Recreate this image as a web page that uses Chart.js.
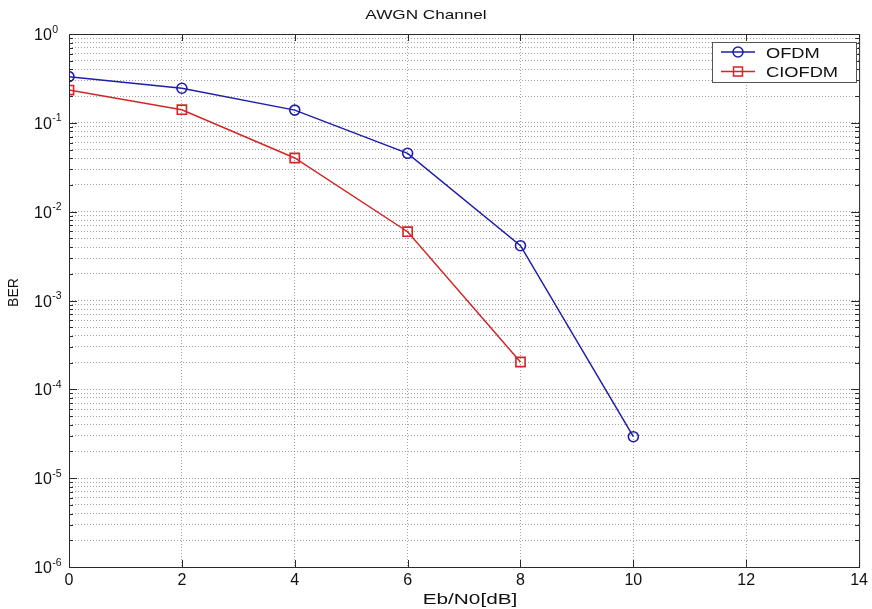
<!DOCTYPE html>
<html>
<head>
<meta charset="utf-8">
<script src="https://cdn.jsdelivr.net/npm/chart.js@4.4.0/dist/chart.umd.min.js"></script>
<style>
  html, body { margin: 0; padding: 0; background: #fff; }
  #wrap { width: 872px; height: 609px; }
</style>
</head>
<body>
<div id="wrap"><canvas id="berChart"></canvas></div>
<script>
// values
const ebN0Ofdm = [0, 2, 4, 6, 8, 10];
const berOfdm = [0.331, 0.245, 0.139, 0.0454, 0.00414, 2.93e-5];
const ebN0Ciofdm = [0, 2, 4, 6, 8];
const berCiofdm = [0.234, 0.1406, 0.0402, 0.00595, 2.03e-4];

const seriesNames = ['OFDM', 'CIOFDM'];
const seriesColors = ['#1e1eaa', '#d42626'];
const seriesMarkers = ['circle', 'rect'];

const xTicks = [0, 2, 4, 6, 8, 10, 12, 14];
const yDecades = [-6, -5, -4, -3, -2, -1, 0];
const yMinorSteps = [2, 3, 4, 5, 6, 7, 8, 9];

const titleText = 'AWGN Channel';
const xLabel = 'Eb/N0[dB]';
const yLabel = 'BER';

const FONT = '"Liberation Sans", Arial, sans-serif';
const gridColor = 'rgba(70,70,70,0.5)';

// every 1..9 x 10^n between the decades
const yTickValues = [];
yDecades.forEach(d => {
    yTickValues.push(Math.pow(10, d));
    if (d < 0) yMinorSteps.forEach(m => yTickValues.push(m * Math.pow(10, d)));
});

function isDecade(v) {
    const l = Math.log10(v);
    return Math.abs(l - Math.round(l)) < 1e-9;
}

// stretched text, the figure's labels look wider than normal
function wideText(ctx, txt, x, y, size, sx, align) {
    ctx.save();
    ctx.font = size + 'px ' + FONT;
    ctx.translate(x, y);
    ctx.scale(sx, 1);
    ctx.textAlign = align || 'center';
    ctx.textBaseline = 'alphabetic';
    ctx.fillText(txt, 0, 0);
    ctx.restore();
}

const framePlugin = {
    id: 'frame',
    afterDraw(chart) {
        const { ctx, chartArea: a, scales: { x, y } } = chart;
        ctx.save();

        // axes box + inward ticks
        ctx.strokeStyle = '#2a2a2a';
        ctx.lineWidth = 1;
        ctx.strokeRect(a.left + 0.5, a.top + 0.5, a.right - a.left, a.bottom - a.top);
        ctx.beginPath();
        yTickValues.forEach(v => {
            const py = Math.round(y.getPixelForValue(v)) + 0.5;
            const len = isDecade(v) ? 8 : 4;
            ctx.moveTo(a.left, py); ctx.lineTo(a.left + len, py);
            ctx.moveTo(a.right, py); ctx.lineTo(a.right - len, py);
        });
        xTicks.forEach(v => {
            const px = Math.round(x.getPixelForValue(v)) + 0.5;
            ctx.moveTo(px, a.bottom); ctx.lineTo(px, a.bottom - 7);
            ctx.moveTo(px, a.top); ctx.lineTo(px, a.top + 7);
        });
        ctx.stroke();

        // y tick labels 10^n
        ctx.fillStyle = '#111';
        yDecades.forEach(d => {
            const py = y.getPixelForValue(Math.pow(10, d));
            ctx.font = '16px ' + FONT;
            ctx.textAlign = 'left';
            ctx.textBaseline = 'alphabetic';
            ctx.fillText('10', 34, py + 6);
            const w = ctx.measureText('10').width;
            ctx.font = '10.5px ' + FONT;
            ctx.fillText(String(d), 34 + w + 0.5, py - 1.5);
        });

        // titles
        wideText(ctx, titleText, 426, 18.5, 13.5, 1.27);
        wideText(ctx, xLabel, 470, 603.5, 15.5, 1.34);
        ctx.save();
        ctx.font = '14px ' + FONT;
        ctx.translate(18, 292.5);
        ctx.rotate(-Math.PI / 2);
        ctx.textAlign = 'center';
        ctx.textBaseline = 'alphabetic';
        ctx.fillText(yLabel, 0, 0);
        ctx.restore();

        // legend box
        const lx = 712, ly = 42, lw = 144, lh = 40;
        ctx.fillStyle = '#fff';
        ctx.fillRect(lx, ly, lw, lh);
        ctx.strokeStyle = '#555';
        ctx.strokeRect(lx + 0.5, ly + 0.5, lw, lh);
        const rows = [52, 71.5];
        seriesNames.forEach((name, i) => {
            const ry = rows[i];
            ctx.strokeStyle = seriesColors[i];
            ctx.lineWidth = 1.5;
            ctx.beginPath();
            ctx.moveTo(721, ry); ctx.lineTo(755, ry);
            ctx.stroke();
            ctx.beginPath();
            if (seriesMarkers[i] === 'circle') {
                ctx.arc(738, ry, 5, 0, Math.PI * 2);
            } else {
                ctx.rect(733.5, ry - 4.5, 9, 9);
            }
            ctx.stroke();
            ctx.fillStyle = '#111';
            wideText(ctx, name, 766, ry + 5.5, 14.5, 1.26, 'left');
        });

        ctx.restore();
    }
};

function toPoints(xs, ys) {
    return xs.map((v, i) => ({ x: v, y: ys[i] }));
}

new Chart(document.getElementById('berChart'), {
    type: 'line',
    data: {
        datasets: [
            {
                label: seriesNames[0],
                data: toPoints(ebN0Ofdm, berOfdm),
                borderColor: seriesColors[0],
                backgroundColor: 'rgba(0,0,0,0)',
                borderWidth: 1.5,
                pointStyle: seriesMarkers[0],
                pointRadius: 5,
                pointBorderWidth: 1.6,
                pointBorderColor: seriesColors[0],
                pointBackgroundColor: 'rgba(0,0,0,0)',
                tension: 0
            },
            {
                label: seriesNames[1],
                data: toPoints(ebN0Ciofdm, berCiofdm),
                borderColor: seriesColors[1],
                backgroundColor: 'rgba(0,0,0,0)',
                borderWidth: 1.5,
                pointStyle: seriesMarkers[1],
                pointRadius: 6.5,
                pointBorderWidth: 1.6,
                pointBorderColor: seriesColors[1],
                pointBackgroundColor: 'rgba(0,0,0,0)',
                tension: 0
            }
        ]
    },
    options: {
        responsive: true,
        maintainAspectRatio: false,
        animation: false,
        events: [],
        layout: { padding: { top: 34, right: 11, left: 0, bottom: 0 } },
        plugins: {
            legend: { display: false },
            title: { display: false },
            tooltip: { enabled: false }
        },
        scales: {
            x: {
                type: 'linear',
                min: 0,
                max: 14,
                afterBuildTicks: s => { s.ticks = xTicks.map(v => ({ value: v })); },
                afterFit: s => { s.height = 42; },
                grid: { color: gridColor, lineWidth: 1, drawTicks: false },
                border: { display: false, dash: [1, 2] },
                ticks: {
                    padding: 4,
                    color: '#111',
                    font: { family: FONT, size: 16 },
                    maxRotation: 0
                }
            },
            y: {
                type: 'logarithmic',
                min: 1e-6,
                max: 1,
                afterBuildTicks: s => { s.ticks = yTickValues.map(v => ({ value: v })); },
                afterFit: s => { s.width = 69; },
                grid: { color: gridColor, lineWidth: 1, drawTicks: false },
                border: { display: false, dash: [1, 2] },
                ticks: { display: false }
            }
        }
    },
    plugins: [framePlugin]
});
</script>
</body>
</html>
